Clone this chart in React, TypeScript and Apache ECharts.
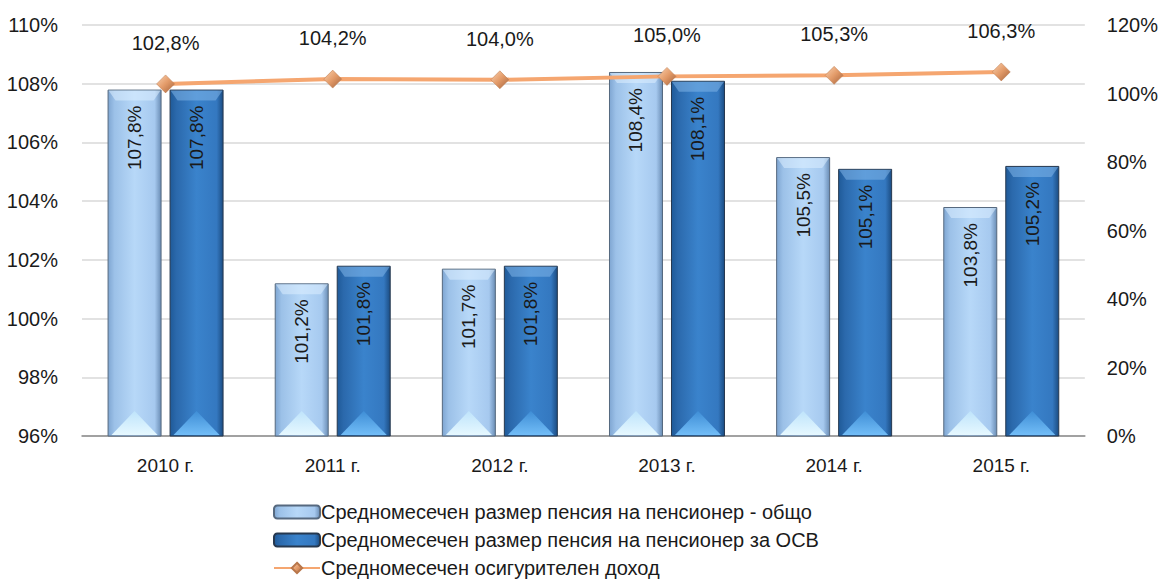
import React, { useEffect, useRef } from "react";
import * as echarts from "echarts";

const categories = ["2010 г.", "2011 г.", "2012 г.", "2013 г.", "2014 г.", "2015 г."];
const pensionTotal = [107.8, 101.2, 101.7, 108.4, 105.5, 103.8];
const pensionOSV = [107.8, 101.8, 101.8, 108.1, 105.1, 105.2];
const insuranceIncome = [102.8, 104.2, 104.0, 105.0, 105.3, 106.3];
const seriesNames = [
  "Средномесечен размер пенсия на пенсионер - общо",
  "Средномесечен размер пенсия на пенсионер за ОСВ",
  "Средномесечен осигурителен доход",
];

const FONT = "'Liberation Sans Narrow', 'Arial Narrow', 'Liberation Sans', sans-serif";
const fmt = (v: number) => v.toFixed(1).replace(".", ",") + "%";

const BAR_W = 54;
const BAR_GAP = 8;

const lightGrad = new echarts.graphic.LinearGradient(0, 0, 1, 0, [
  { offset: 0, color: "#7fa6d2" },
  { offset: 0.12, color: "#9cc1e8" },
  { offset: 0.5, color: "#b7d8f8" },
  { offset: 0.88, color: "#a6c9ef" },
  { offset: 1, color: "#6a8db5" },
]);
const darkGrad = new echarts.graphic.LinearGradient(0, 0, 1, 0, [
  { offset: 0, color: "#1f5a98" },
  { offset: 0.12, color: "#2b69ac" },
  { offset: 0.5, color: "#3a83cc" },
  { offset: 0.88, color: "#3478c0" },
  { offset: 1, color: "#1b4c82" },
]);
const markerGrad = new echarts.graphic.LinearGradient(0, 0, 1, 1, [
  { offset: 0, color: "#fbd2b0" },
  { offset: 0.5, color: "#e39b69" },
  { offset: 1, color: "#a4613a" },
]);

function decoRender(side: number, topCol: string, triTop: string, triBottom: string) {
  return (params: any, api: any) => {
    const band = api.size([1, 0])[0];
    const c = api.coord([api.value(0), api.value(1)]);
    const base = api.coord([api.value(0), 96]);
    const xc = c[0] + side * (BAR_W / 2 + BAR_GAP / 2);
    const x0 = xc - BAR_W / 2 + 1;
    const x1 = xc + BAR_W / 2 - 1;
    const yt = c[1] + 1;
    const yb = base[1] - 1;
    void band;
    return {
      type: "group",
      children: [
        {
          type: "polygon",
          shape: {
            points: [
              [x0, yt],
              [x1, yt],
              [x1 - 7, yt + 10],
              [x0 + 7, yt + 10],
            ],
          },
          style: { fill: topCol, opacity: 0.55 },
        },
        {
          type: "polygon",
          shape: {
            points: [
              [x0 + 3, yb],
              [x1 - 3, yb],
              [xc, yb - 24],
            ],
          },
          style: {
            fill: new echarts.graphic.LinearGradient(0, 0, 0, 1, [
              { offset: 0, color: triTop },
              { offset: 1, color: triBottom },
            ]),
          },
        },
      ],
    };
  };
}

export default function App() {
  const ref = useRef<HTMLDivElement>(null);
  useEffect(() => {
    if (!ref.current) return;
    const chart = echarts.init(ref.current, null, { renderer: "svg" });
    const barLabel = {
      show: true,
      position: "insideTop" as const,
      rotate: 90,
      align: "right" as const,
      verticalAlign: "middle" as const,
      distance: 16,
      color: "#1a1a1a",
      fontFamily: FONT,
      fontSize: 19,
      formatter: (p: any) => fmt(p.value),
    };
    const decoData = (arr: number[]) => arr.map((v, i) => [i, v]);
    chart.setOption({
      animation: false,
      textStyle: { fontFamily: FONT },
      grid: { left: 82, right: 75, top: 25, bottom: 148, containLabel: false },
      legend: {
        orient: "vertical",
        left: 268,
        top: 497,
        height: 90,
        itemGap: 8,
        itemWidth: 46,
        itemHeight: 13,
        textStyle: { fontFamily: FONT, fontSize: 20, color: "#1a1a1a", padding: [0, 0, 0, -4] },
        data: seriesNames,
      },
      xAxis: {
        type: "category",
        data: categories,
        axisTick: { show: false },
        axisLine: { lineStyle: { color: "#8c8c8c", width: 1.5 } },
        axisLabel: { color: "#1a1a1a", fontSize: 19, fontFamily: FONT, margin: 20 },
      },
      yAxis: [
        {
          type: "value",
          min: 96,
          max: 110,
          interval: 2,
          axisLine: { show: false },
          axisTick: { show: false },
          splitLine: { lineStyle: { color: "#d9d9d9", width: 1.5 } },
          axisLabel: {
            color: "#1a1a1a",
            fontSize: 20,
            fontFamily: FONT,
            margin: 24,
            formatter: (v: number) => v + "%",
          },
        },
        {
          type: "value",
          min: 0,
          max: 120,
          interval: 20,
          axisLine: { show: false },
          axisTick: { show: false },
          splitLine: { show: false },
          axisLabel: {
            color: "#1a1a1a",
            fontSize: 20,
            fontFamily: FONT,
            margin: 22,
            formatter: (v: number) => v + "%",
          },
        },
      ],
      series: [
        {
          name: seriesNames[0],
          type: "bar",
          data: pensionTotal,
          barWidth: BAR_W,
          barGap: (BAR_GAP / BAR_W) * 100 + "%",
          itemStyle: { color: lightGrad, borderColor: "#56697f", borderWidth: 1 },
          label: barLabel,
          z: 2,
        },
        {
          name: seriesNames[1],
          type: "bar",
          data: pensionOSV,
          barWidth: BAR_W,
          itemStyle: { color: darkGrad, borderColor: "#26384f", borderWidth: 1 },
          label: barLabel,
          z: 2,
        },
        {
          type: "custom",
          silent: true,
          data: decoData(pensionTotal),
          renderItem: decoRender(-1, "#dceeff", "#bfe4fb", "#e6f8ff"),
          z: 3,
        },
        {
          type: "custom",
          silent: true,
          data: decoData(pensionOSV),
          renderItem: decoRender(1, "#7fb4e8", "#3f8ed6", "#72bdf7"),
          z: 3,
        },
        {
          name: seriesNames[2],
          type: "line",
          yAxisIndex: 1,
          data: insuranceIncome,
          symbol: "diamond",
          symbolSize: 18,
          lineStyle: { color: "#f5a670", width: 4 },
          itemStyle: { color: markerGrad, borderColor: "#b8764a", borderWidth: 0.5 },
          label: {
            show: true,
            position: "top",
            distance: 22,
            color: "#1a1a1a",
            fontFamily: FONT,
            fontSize: 20,
            formatter: (p: any) => fmt(p.value),
          },
          z: 5,
        },
      ],
    });
    return () => chart.dispose();
  }, []);
  return (
    <div
      ref={ref}
      style={{ position: "absolute", left: 0, top: 0, width: 1161, height: 584 }}
    />
  );
}
